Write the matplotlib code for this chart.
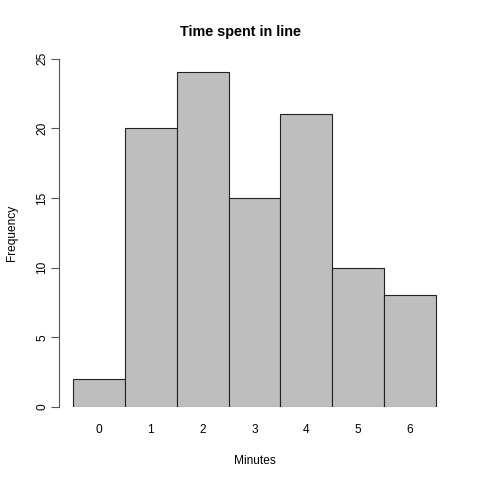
import matplotlib
matplotlib.use('Agg')
import matplotlib.pyplot as plt

plt.rcParams['font.family'] = ['Liberation Sans', 'DejaVu Sans']

minutes = [0, 1, 2, 3, 4, 5, 6]
counts = [2, 20, 24, 15, 21, 10, 8]
y_ticks = [0, 5, 10, 15, 20, 25]

fig = plt.figure(figsize=(4.8, 4.8), dpi=100)
ax = fig.add_axes([59 / 480, 73 / 480, 391 / 480, 348.5 / 480])

ax.bar(minutes, counts, width=1.0, color='#BEBEBE', edgecolor='#222222', linewidth=0.8)
ax.set_xlim(-0.771, 6.771)
ax.set_ylim(0, 25)

for s in ['top', 'right', 'bottom']:
    ax.spines[s].set_visible(False)
ax.spines['left'].set_bounds(0, 25)
ax.spines['left'].set_color('#555555')
ax.spines['left'].set_linewidth(0.8)

ax.set_yticks(y_ticks)
ax.set_yticklabels([str(v) for v in y_ticks], rotation=90, va='center', fontsize=8.6)
ax.tick_params(axis='y', length=5.8, width=0.8, color='#555555', pad=1.8)

ax.set_xticks(minutes)
ax.set_xticklabels([str(m) for m in minutes], fontsize=8.6)
ax.tick_params(axis='x', length=0, pad=12)

ax.set_xlabel('Minutes', fontsize=8.6, labelpad=14)
ax.set_ylabel('Frequency', fontsize=8.6, labelpad=13.5)
fig.text(0.5, 1 - 32 / 480, 'Time spent in line', ha='center', va='center',
         fontsize=10.4, fontweight='bold')

fig.savefig('out.png', dpi=100)
